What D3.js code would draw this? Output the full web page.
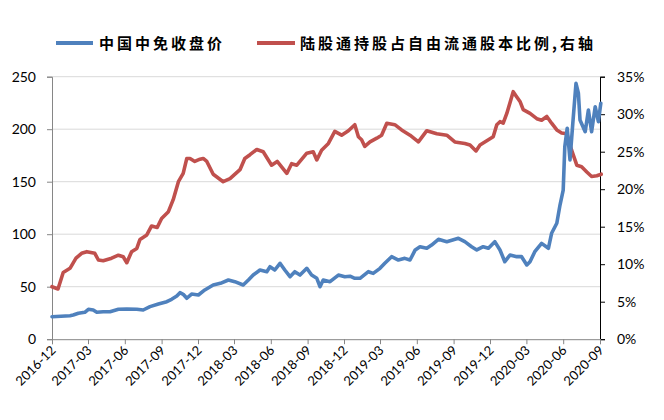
<!DOCTYPE html>
<html>
<head>
<meta charset="utf-8">
<script src="https://cdn.jsdelivr.net/npm/d3@7"></script>
<style>
html,body{margin:0;padding:0;background:#fff;}
svg{display:block;}
</style>
</head>
<body>
<svg id="chart" width="664" height="420"></svg>
<script>
// ---- data ----
const seriesNames = ["中国中免收盘价", "陆股通持股占自由流通股本比例,右轴"];
const xTickLabels = ["2016-12","2017-03","2017-06","2017-09","2017-12","2018-03","2018-06","2018-09","2018-12","2019-03","2019-06","2019-09","2019-12","2020-03","2020-06","2020-09"];
const leftTicks = [0, 50, 100, 150, 200, 250];
const rightTicks = [0, 5, 10, 15, 20, 25, 30, 35];

const priceDates = ["2016-12-01","2017-01-15","2017-01-23","2017-02-05","2017-02-21","2017-03-02","2017-03-14","2017-03-23","2017-04-08","2017-04-25","2017-05-16","2017-06-06","2017-07-01","2017-07-17","2017-08-03","2017-08-24","2017-09-14","2017-09-26","2017-10-09","2017-10-17","2017-10-25","2017-11-03","2017-11-15","2017-12-02","2017-12-18","2018-01-08","2018-01-26","2018-02-15","2018-03-03","2018-03-24","2018-04-06","2018-04-18","2018-05-05","2018-05-22","2018-05-30","2018-06-11","2018-06-24","2018-07-06","2018-07-19","2018-07-31","2018-08-13","2018-08-30","2018-09-11","2018-09-24","2018-10-02","2018-10-10","2018-10-27","2018-11-17","2018-12-03","2018-12-16","2018-12-28","2019-01-10","2019-01-31","2019-02-12","2019-03-01","2019-03-13","2019-03-30","2019-04-16","2019-05-02","2019-05-15","2019-05-28","2019-06-09","2019-06-26","2019-07-08","2019-07-25","2019-08-15","2019-09-13","2019-09-29","2019-10-16","2019-10-29","2019-11-14","2019-11-27","2019-12-13","2019-12-26","2020-01-07","2020-01-20","2020-02-06","2020-02-18","2020-03-02","2020-03-10","2020-03-22","2020-04-08","2020-04-25","2020-05-03","2020-05-16","2020-05-24","2020-06-01","2020-06-05","2020-06-11","2020-06-18","2020-06-25","2020-07-03","2020-07-09","2020-07-13","2020-07-26","2020-08-03","2020-08-11","2020-08-20","2020-08-28","2020-09-03"];
const priceValues = [21.4,22.4,23,24.7,25.6,28.5,27.8,25.6,26.2,26.2,28.5,28.8,28.5,27.8,31,33.5,35.7,38,41.1,44.3,42.8,39,43,42.1,46.9,51.6,53.2,56.4,54.8,51.6,56.4,61.1,65.9,64.3,69,65.9,72.3,65.9,59.5,64.3,61.1,67.5,61.1,58,50,56.4,54.8,61.1,59.5,60,58,58,64.3,62.7,67.5,72.3,78.6,75.4,77,75.4,85,88.1,86.6,89.7,95.1,92.9,96.1,92.9,88.1,85,88.1,86.6,92.9,85,73.8,80.2,78.6,78.6,70.7,73.8,83.3,91.3,86.6,100.9,110.4,127.8,142,183.3,200.9,170.7,205.6,243.7,234.2,208.8,197.6,218.3,197.6,221.4,207.1,224.7];

const shareDates = ["2016-12-01","2016-12-16","2016-12-29","2017-01-15","2017-01-30","2017-02-13","2017-02-26","2017-03-18","2017-03-27","2017-04-08","2017-04-29","2017-05-16","2017-05-28","2017-06-06","2017-06-18","2017-07-01","2017-07-09","2017-07-26","2017-08-07","2017-08-21","2017-09-01","2017-09-18","2017-09-30","2017-10-13","2017-10-25","2017-11-03","2017-11-11","2017-11-23","2017-12-06","2017-12-14","2017-12-23","2018-01-08","2018-02-02","2018-02-19","2018-03-16","2018-03-28","2018-04-10","2018-04-27","2018-05-13","2018-06-03","2018-06-17","2018-07-11","2018-07-23","2018-08-05","2018-08-30","2018-09-15","2018-09-24","2018-10-06","2018-10-23","2018-11-08","2018-11-25","2018-12-12","2018-12-28","2019-01-06","2019-01-14","2019-01-22","2019-02-04","2019-02-21","2019-03-05","2019-03-18","2019-04-07","2019-04-24","2019-05-15","2019-06-05","2019-06-26","2019-07-21","2019-08-15","2019-09-04","2019-09-29","2019-10-12","2019-10-27","2019-11-06","2019-11-27","2019-12-09","2019-12-18","2019-12-26","2020-01-03","2020-01-12","2020-01-22","2020-01-28","2020-02-06","2020-02-14","2020-02-22","2020-03-10","2020-03-27","2020-04-08","2020-04-21","2020-05-03","2020-05-16","2020-05-28","2020-06-10","2020-06-22","2020-07-05","2020-07-17","2020-07-30","2020-08-11","2020-08-24","2020-09-04"];
const shareValues = [7.0,6.7,8.9,9.45,10.8,11.45,11.67,11.45,10.56,10.47,10.8,11.2,11.0,10.2,11.67,12.1,13.3,13.9,15.1,14.9,16.1,17.0,18.6,21.0,22.1,24.1,24.1,23.7,24.0,24.1,23.7,22.0,21.0,21.4,22.6,24.1,24.6,25.3,25.0,23.2,23.7,22.1,23.4,23.2,24.8,25.0,23.9,25.2,26.1,27.7,27.2,27.8,28.6,27.0,26.6,25.7,26.3,26.8,27.2,28.8,28.6,27.9,27.2,26.3,27.8,27.4,27.2,26.3,26.1,25.9,25.1,25.9,26.6,27.0,28.6,29.0,28.8,30.1,31.9,33.0,32.3,31.7,30.6,30.1,29.4,29.2,29.7,28.8,27.9,27.5,27.4,25.2,23.2,23.0,22.3,21.7,21.8,22.0];

// ---- layout ----
const svg = d3.select("#chart");
const L = 52, R = 600, T = 76.7, B = 339.2;
const parse = d3.timeParse("%Y-%m-%d");
const x = d3.scaleTime().domain([parse("2016-12-01"), parse("2020-09-01")]).range([L, R]);
const yL = d3.scaleLinear().domain([0, 250]).range([B, T]);
const yR = d3.scaleLinear().domain([0, 35]).range([B, T]);
const blue = "#4F81BD", red = "#C0504D";
const font = "Lato, 'Open Sans', sans-serif";

// gridlines
svg.append("g").selectAll("line").data(leftTicks.filter(d => d > 0)).join("line")
  .attr("x1", L).attr("x2", R)
  .attr("y1", d => yL(d)).attr("y2", d => yL(d))
  .attr("stroke", "#d9d9d9").attr("stroke-width", 1);

// left axis
const gL = svg.append("g").attr("transform", `translate(${L},0)`)
  .call(d3.axisLeft(yL).tickValues(leftTicks).tickSize(5).tickPadding(11));
gL.select(".domain").attr("stroke", "#868686");
gL.selectAll(".tick line").attr("stroke", "#868686");
gL.selectAll("text").attr("font-family", font).attr("font-size", 14).attr("fill", "#000");

// right axis
const gR = svg.append("g").attr("transform", `translate(${R},0)`)
  .call(d3.axisRight(yR).tickValues(rightTicks).tickSize(5).tickPadding(12).tickFormat(d => d + "%"));
gR.select(".domain").attr("stroke", "#000");
gR.selectAll(".tick line").attr("stroke", "#000");
gR.selectAll("text").attr("font-family", font).attr("font-size", 14).attr("fill", "#000");

// bottom axis
const xTickDates = xTickLabels.map(s => parse(s + "-01"));
const gB = svg.append("g").attr("transform", `translate(0,${B})`)
  .call(d3.axisBottom(x).tickValues(xTickDates).tickSize(5).tickFormat((d, i) => xTickLabels[i]));
gB.select(".domain").attr("stroke", "#868686");
gB.selectAll(".tick line").attr("stroke", "#868686");
gB.selectAll("text").attr("font-family", font).attr("font-size", 13).attr("fill", "#000")
  .attr("text-anchor", "end").attr("dy", null).attr("y", 0)
  .attr("transform", "translate(4,12) rotate(-45)");

// lines
const priceData = priceDates.map((d, i) => ({ date: parse(d), v: priceValues[i] }));
const shareData = shareDates.map((d, i) => ({ date: parse(d), v: shareValues[i] }));

svg.append("path").datum(shareData)
  .attr("fill", "none").attr("stroke", red).attr("stroke-width", 3.6)
  .attr("stroke-linejoin", "round").attr("stroke-linecap", "round")
  .attr("d", d3.line().x(d => x(d.date)).y(d => yR(d.v)));

svg.append("path").datum(priceData)
  .attr("fill", "none").attr("stroke", blue).attr("stroke-width", 3.6)
  .attr("stroke-linejoin", "round").attr("stroke-linecap", "round")
  .attr("d", d3.line().x(d => x(d.date)).y(d => yL(d.v)));

// legend
const legend = [
  { name: seriesNames[0], color: blue, x1: 56, x2: 93, tx: 99 },
  { name: seriesNames[1], color: red, x1: 257, x2: 295, tx: 300 }
];
const lg = svg.append("g");
legend.forEach(l => {
  lg.append("line").attr("x1", l.x1).attr("x2", l.x2).attr("y1", 43).attr("y2", 43)
    .attr("stroke", l.color).attr("stroke-width", 4);
  lg.append("text").attr("x", l.tx).attr("y", 48.5)
    .attr("font-family", "'Noto Sans CJK SC', sans-serif").attr("font-weight", "bold")
    .attr("font-size", 15).attr("letter-spacing", 3).attr("fill", "#000")
    .text(l.name);
});
</script>
</body>
</html>
